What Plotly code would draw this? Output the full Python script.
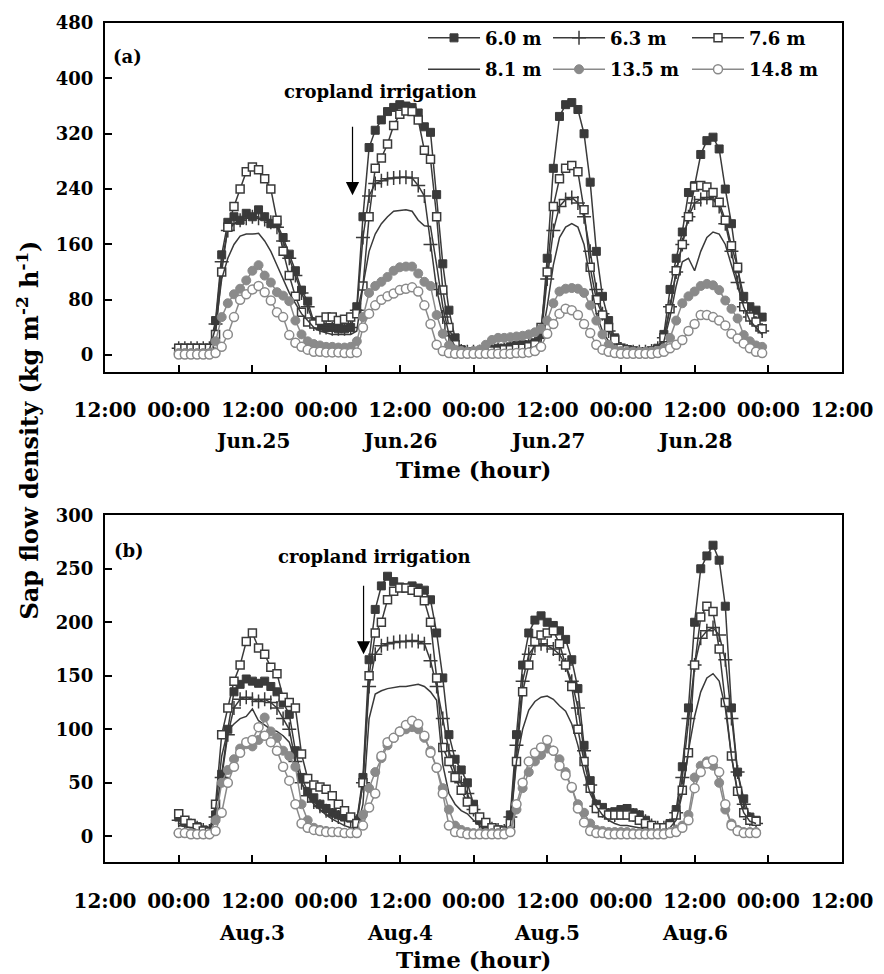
import plotly.graph_objects as go

# ---------------- data (hourly, hour 0 = 00:00 of first day) ----------------
hours_a = list(range(96))
hours_b = list(range(95))

tick_vals = [-12, 0, 12, 24, 36, 48, 60, 72, 84, 96, 108]
tick_labels = ["12:00", "00:00", "12:00", "00:00", "12:00", "00:00",
               "12:00", "00:00", "12:00", "00:00", "12:00"]
day_centers = [12, 36, 60, 84]
date_labels_a = ["Jun.25", "Jun.26", "Jun.27", "Jun.28"]
date_labels_b = ["Aug.3", "Aug.4", "Aug.5", "Aug.6"]
series_names = ["6.0 m", "6.3 m", "7.6 m", "8.1 m", "13.5 m", "14.8 m"]

# Panel (a) June
a_60 = [10,10,10,10,10,10,50,145,192,200,195,205,200,210,200,190,190,170,146,122,94,78,48,42,
        40,40,38,38,40,70,200,300,325,340,352,358,362,360,358,350,330,322,232,132,65,25,8,5,
        5,5,6,8,10,10,12,14,15,15,18,30,140,270,345,362,365,355,320,250,150,85,50,25,
        10,8,6,5,5,6,10,30,95,140,178,235,245,290,310,315,298,240,190,125,85,70,65,55]
a_63 = [10,10,10,10,10,10,45,135,180,190,195,198,200,198,196,192,185,165,140,115,90,70,45,40,
        40,38,38,38,40,65,170,230,248,252,255,256,257,257,256,245,230,160,95,55,28,12,6,5,
        5,5,5,6,8,8,10,12,12,14,15,25,110,180,215,225,228,220,200,150,95,60,35,18,
        8,6,5,5,5,6,10,25,70,120,160,200,220,225,228,225,215,190,150,105,70,55,45,35]
a_76 = [10,10,10,10,10,10,30,120,185,215,240,265,272,268,255,240,195,150,115,85,62,48,45,50,
        55,55,50,52,55,60,100,200,270,285,305,332,348,353,352,340,296,283,200,94,40,15,6,5,
        5,5,5,6,6,8,8,10,10,12,15,40,120,215,255,270,274,265,210,127,80,58,40,22,
        10,8,6,5,5,6,8,25,67,122,160,200,243,245,243,235,221,195,158,127,70,55,48,38]
a_81 = [8,8,8,8,8,8,40,110,140,160,172,175,175,176,165,150,130,110,90,75,60,50,40,35,
        32,30,30,30,30,35,100,150,175,190,200,208,209,210,208,195,187,186,130,70,30,12,5,4,
        4,4,4,5,5,6,6,8,8,10,12,20,70,130,170,185,190,185,160,110,60,35,20,10,
        6,5,5,4,4,5,6,20,55,100,135,140,122,150,170,178,175,160,130,100,70,50,40,30]
a_135 = [3,3,3,3,3,3,20,55,75,88,96,108,122,130,115,105,91,86,78,50,30,20,16,14,
         12,12,11,11,12,20,55,90,100,106,113,122,127,128,128,118,106,100,58,31,14,8,6,5,
         6,8,15,22,25,25,26,27,28,30,33,38,50,75,92,96,97,96,90,72,50,30,15,8,
         6,5,5,5,5,5,6,10,25,50,75,85,92,100,103,101,94,79,67,53,29,20,14,12]
a_148 = [1,1,1,1,1,1,3,12,30,55,80,88,95,100,91,79,62,55,29,18,12,8,5,5,
         4,4,4,3,3,4,40,60,72,80,85,89,94,96,98,92,72,45,15,6,3,2,2,2,
         2,2,2,2,2,2,2,3,3,4,6,12,31,45,60,67,65,58,45,32,15,8,5,3,
         2,2,2,2,2,2,3,5,10,15,22,35,45,58,58,55,50,43,31,24,17,10,5,3]

# Panel (b) August
b_60 = [18,14,12,9,6,5,20,58,100,135,142,147,145,143,145,140,135,125,114,80,55,42,36,30,
        26,22,20,18,17,15,55,165,212,234,243,238,233,232,234,232,230,221,190,148,95,72,62,50,
        30,15,10,8,6,5,20,95,160,190,202,206,200,197,192,184,165,138,85,52,30,27,22,23,
        25,26,22,20,15,10,8,8,12,25,65,120,200,250,262,272,258,215,120,60,35,18,15]
b_63 = [15,12,10,8,6,5,18,55,95,120,128,130,128,126,128,125,120,110,100,70,50,38,32,28,
        24,20,18,16,15,14,50,140,170,178,180,181,182,182,183,182,180,164,140,110,80,60,50,40,
        25,14,9,7,6,5,18,85,145,170,178,180,178,175,170,160,145,120,80,48,28,24,20,20,
        22,22,20,18,14,10,8,8,10,22,55,110,160,185,192,195,188,165,110,60,30,16,12]
b_76 = [21,15,12,8,5,4,30,95,120,145,160,182,190,176,170,158,152,130,125,120,77,54,48,46,
        44,38,30,24,18,12,50,150,190,200,221,229,232,232,230,228,220,200,148,83,70,55,43,32,
        25,18,13,8,6,5,12,70,135,160,182,188,190,192,180,160,140,100,70,45,26,22,20,20,
        20,20,18,15,12,10,8,8,10,20,43,78,160,205,215,210,175,125,75,42,22,15,14]
b_81 = [10,9,8,6,5,5,25,75,99,105,110,112,119,108,104,100,98,94,88,70,50,38,30,25,
        20,16,13,10,8,6,30,110,133,136,138,139,140,140,141,142,140,135,127,67,40,30,24,21,
        15,10,7,5,5,5,10,70,100,118,126,130,131,128,122,117,105,85,60,40,28,20,15,12,
        10,10,9,8,7,6,5,5,8,15,40,80,112,135,148,152,145,120,75,40,22,14,12]
b_135 = [3,3,3,2,2,2,15,50,62,72,82,86,84,90,111,98,92,80,75,65,30,15,8,6,
         5,4,4,3,3,3,20,45,60,73,85,92,98,100,102,100,92,80,64,45,25,10,6,4,
         3,3,3,3,3,3,5,25,45,60,70,76,82,80,72,60,45,30,22,12,6,5,4,4,
         4,4,3,3,3,3,3,3,4,6,10,20,55,66,70,66,50,25,12,6,4,4,4]
b_148 = [3,3,2,2,2,2,5,22,50,65,78,88,90,102,94,88,80,65,52,30,12,8,6,5,
         4,4,4,3,3,3,10,27,40,75,88,92,98,104,108,105,94,78,64,40,10,4,3,2,
         2,2,2,2,2,2,4,30,50,70,78,83,90,80,66,57,46,26,13,5,3,3,2,2,
         2,2,2,2,2,2,2,2,3,4,8,15,45,60,68,71,60,30,10,5,3,3,3]

panel_a = [a_60, a_63, a_76, a_81, a_135, a_148]
panel_b = [b_60, b_63, b_76, b_81, b_135, b_148]

# ---------------- styles ----------------
DARK = "#3a3a3a"
GRAY = "#8a8a8a"
FONT = "DejaVu Serif"

styles = [
    dict(mode="lines+markers", line=dict(color=DARK, width=1.5),
         marker=dict(symbol="square", size=8, color=DARK, line=dict(color=DARK, width=1))),
    dict(mode="lines+markers", line=dict(color=DARK, width=1.5),
         marker=dict(symbol="cross-thin", size=10, color=DARK, line=dict(color=DARK, width=1.5))),
    dict(mode="lines+markers", line=dict(color=DARK, width=1.5),
         marker=dict(symbol="square", size=8, color="white", line=dict(color=DARK, width=1.5))),
    dict(mode="lines", line=dict(color=DARK, width=1.5)),
    dict(mode="lines+markers", line=dict(color=GRAY, width=1.5),
         marker=dict(symbol="circle", size=9, color=GRAY, line=dict(color=GRAY, width=1))),
    dict(mode="lines+markers", line=dict(color=GRAY, width=1.5),
         marker=dict(symbol="circle", size=9, color="white", line=dict(color=GRAY, width=1.5))),
]
legend_of = ["legend", "legend2", "legend3", "legend", "legend2", "legend3"]

fig = go.Figure()
for i, name in enumerate(series_names):
    fig.add_trace(go.Scatter(x=hours_a, y=panel_a[i], name=name, xaxis="x", yaxis="y",
                             legend=legend_of[i], legendgroup="g%d" % i, showlegend=True,
                             **styles[i]))
for i, name in enumerate(series_names):
    fig.add_trace(go.Scatter(x=hours_b, y=panel_b[i], name=name, xaxis="x2", yaxis="y2",
                             legendgroup="g%d" % i, showlegend=False, **styles[i]))

axis_common = dict(showline=True, linewidth=2, linecolor="black", mirror=True,
                   ticks="inside", ticklen=7, tickwidth=1.5, tickcolor="black",
                   showgrid=False, zeroline=False, automargin=False)

xa = dict(axis_common, range=[-12, 108], tickvals=tick_vals, ticktext=tick_labels,
          tickfont=dict(family=FONT, size=20, color="black", weight="bold"))
ya = dict(axis_common, ticklabelstandoff=6,
          tickfont=dict(family=FONT, size=18, color="black", weight="bold"))

# page body has an 8px margin: figure is 876x966 so the page is 884x974
fig.update_layout(
    width=876, height=966,
    margin=dict(l=97, r=42, t=12, b=112),
    plot_bgcolor="white", paper_bgcolor="white",
    font=dict(family=FONT, size=18, color="black", weight="bold"),
    xaxis=dict(xa, anchor="y", ticklabelstandoff=19),
    xaxis2=dict(xa, anchor="y2", ticklabelstandoff=20),
    yaxis=dict(ya, domain=[0.5843, 1.0], range=[-24, 480],
               tickvals=[0, 80, 160, 240, 320, 400, 480]),
    yaxis2=dict(ya, domain=[0.0, 0.4133], range=[-24, 300],
                tickvals=[0, 50, 100, 150, 200, 250, 300]),
    showlegend=True,
)

leg_common = dict(orientation="v", xanchor="left", yanchor="top", bgcolor="rgba(0,0,0,0)",
                  borderwidth=0, itemwidth=52, tracegroupgap=5,
                  font=dict(family=FONT, size=18, color="black", weight="bold"))
fig.update_layout(
    legend=dict(leg_common, x=0.4315, y=1.004),
    legend2=dict(leg_common, x=0.6011, y=1.004),
    legend3=dict(leg_common, x=0.7897, y=1.004),
)

ann = []
def note(x, y, text, size, xref="paper", yref="paper", **kw):
    ann.append(dict(x=x, y=y, xref=xref, yref=yref, text=text, showarrow=False,
                    xanchor="center", yanchor="middle", font=dict(size=size), **kw))

# date labels
for xc, lab in zip(day_centers, date_labels_a):
    note(xc, 0.5012, lab, 20, xref="x")
for xc, lab in zip(day_centers, date_labels_b):
    note(xc, -0.0843, lab, 20, xref="x2")
# axis titles
note(0.5, 0.468, "Time (hour)", 23)
note(0.5, -0.1164, "Time (hour)", 23)
note(-0.1045, 0.5154, "Sap flow density (kg m<sup>-2</sup> h<sup>-1</sup>)", 24, textangle=-90)
# panel letters
note(0.0312, 0.9596, "(a)", 18)
note(0.0326, 0.3717, "(b)", 18)
# irrigation notes
note(0.3738, 0.9187, "cropland irrigation", 18)
note(0.3663, 0.3646, "cropland irrigation", 18)
ann.append(dict(x=28.3, y=231, xref="x", yref="y", ax=0, ay=-70, text="", showarrow=True,
                arrowhead=2, arrowsize=2.2, arrowwidth=1.2, arrowcolor="black"))
ann.append(dict(x=30.1, y=170, xref="x2", yref="y2", ax=0, ay=-70, text="", showarrow=True,
                arrowhead=2, arrowsize=2.2, arrowwidth=1.2, arrowcolor="black"))
fig.update_layout(annotations=ann)

fig.write_html("out.html")
